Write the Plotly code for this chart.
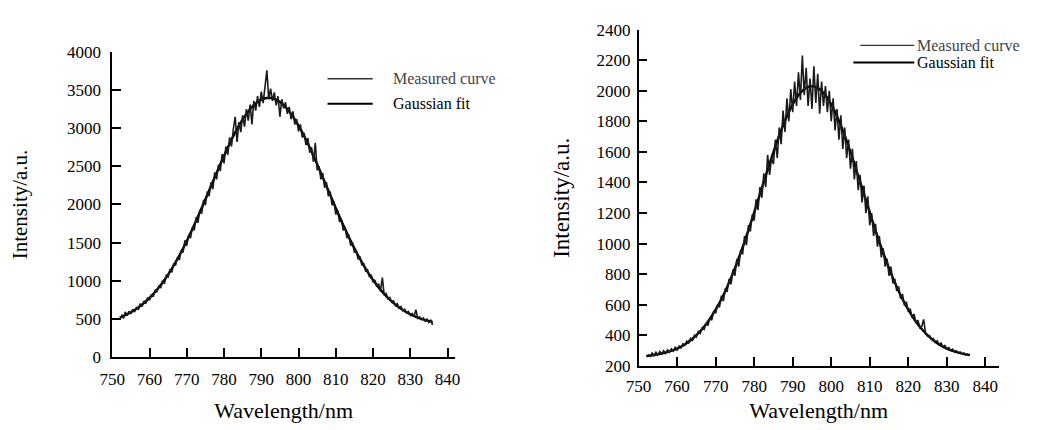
import numpy as np
import plotly.graph_objects as go

# ---------------- data ----------------
# Left panel: measured curve, 0.5 nm sampling starting at 752.5 nm
left_start = 752.5
left_measured = [
    560, 505, 590, 540, 600, 565, 625, 590, 655, 620, 700, 660, 735, 700, 780, 745,
    820, 790, 880, 850, 935, 905, 1000, 960, 1070, 1050, 1150, 1110, 1230, 1200, 1310, 1270,
    1400, 1370, 1530, 1460, 1600, 1560, 1700, 1660, 1830, 1760, 1930, 1880, 2060, 1990, 2170, 2110,
    2290, 2200, 2420, 2330, 2520, 2440, 2660, 2540, 2760, 2650, 2880, 2760, 2990, 3150, 2820, 3080,
    2950, 3170, 3020, 3250, 3100, 3310, 3050, 3360, 3230, 3420, 3280, 3480, 3330, 3510, 3760, 3380,
    3520, 3360, 3470, 3300, 3420, 3150, 3380, 3260, 3340, 3190, 3280, 3120, 3220, 3050, 3120, 2960,
    3050, 2880, 2940, 2780, 2870, 2680, 2750, 2560, 2810, 2450, 2500, 2330, 2410, 2220, 2290, 2110,
    2170, 1990, 2040, 1870, 1920, 1770, 1810, 1660, 1700, 1560, 1600, 1460, 1500, 1370, 1400, 1280,
    1320, 1200, 1230, 1120, 1150, 1050, 1080, 980, 1010, 920, 960, 860, 1040, 810, 830, 760,
    780, 720, 735, 675, 700, 640, 660, 605, 625, 575, 595, 545, 570, 530, 620, 505,
    525, 490, 510, 470, 495, 450, 480, 420,
]
# Left panel: Gaussian fit, 2 nm sampling from 752 nm
left_fit_wl = list(range(752, 837, 2))
left_fit = [
    516, 559, 615, 686, 774, 882, 1009, 1159, 1330, 1522, 1731, 1953, 2183, 2414, 2638, 2849,
    3034, 3188, 3304, 3376, 3400, 3376, 3304, 3188, 3034, 2849, 2638, 2414, 2183, 1953, 1731, 1522,
    1330, 1159, 1009, 882, 774, 686, 615, 559, 516, 483, 459,
]

# Right panel: measured curve, 0.5 nm sampling starting at 752.5 nm
right_start = 752.5
right_measured = [
    275, 262, 285, 268, 290, 272, 295, 278, 300, 282, 305, 290, 312, 298, 322, 305,
    330, 318, 345, 335, 362, 350, 380, 368, 400, 390, 425, 412, 450, 440, 480, 465,
    515, 500, 560, 545, 600, 585, 660, 625, 700, 690, 770, 735, 830, 790, 900, 850,
    960, 930, 1050, 990, 1120, 1080, 1190, 1150, 1290, 1220, 1370, 1300, 1460, 1370, 1580, 1450,
    1560, 1520, 1680, 1560, 1760, 1650, 1870, 1730, 1950, 1800, 2010, 1860, 2060, 1900, 2120, 1940,
    2230, 1970, 2150, 1900, 2080, 1880, 2160, 1920, 2110, 1850, 2060, 1900, 2030, 1860, 2000, 1800,
    1950, 1740, 1880, 1680, 1840, 1620, 1760, 1560, 1680, 1490, 1620, 1420, 1540, 1350, 1450, 1270,
    1380, 1200, 1310, 1120, 1200, 1050, 1130, 980, 1050, 910, 970, 850, 900, 790, 850, 740,
    770, 690, 720, 640, 670, 595, 620, 555, 575, 515, 540, 480, 500, 450, 460, 505,
    410, 395, 400, 375, 380, 355, 365, 340, 350, 325, 335, 312, 320, 302, 310, 292,
    300, 285, 292, 278, 285, 272, 280,
]
# Right panel: Gaussian fit, 2 nm sampling from 752 nm
right_fit_wl = list(range(752, 837, 2))
right_fit = [
    265, 272, 281, 295, 314, 341, 378, 427, 489, 568, 663, 776, 906, 1050, 1205, 1365,
    1523, 1672, 1804, 1911, 1986, 2025, 2025, 1986, 1911, 1804, 1672, 1523, 1365, 1205, 1050, 906,
    776, 663, 568, 489, 427, 378, 341, 314, 295, 281, 272,
]

x_ticks = list(range(750, 841, 10))
left_y_ticks = list(range(0, 4001, 500))
right_y_ticks = list(range(200, 2401, 200))
legend_names = ["Measured curve", "Gaussian fit"]

left_wl = left_start + 0.5 * np.arange(len(left_measured))
right_wl = right_start + 0.5 * np.arange(len(right_measured))

# ---------------- figure ----------------
FONT = "Liberation Serif, Times New Roman, serif"
fig = go.Figure()

fig.add_trace(go.Scatter(x=left_fit_wl, y=left_fit, mode="lines", line=dict(color="black", width=2.4, shape="spline"),
                         name=legend_names[1], showlegend=False, xaxis="x", yaxis="y"))
fig.add_trace(go.Scatter(x=left_wl, y=left_measured, mode="lines", line=dict(color="#1a1a1a", width=1.6),
                         name=legend_names[0], showlegend=False, xaxis="x", yaxis="y"))
fig.add_trace(go.Scatter(x=right_fit_wl, y=right_fit, mode="lines", line=dict(color="black", width=2.4, shape="spline"),
                         name=legend_names[1], showlegend=False, xaxis="x2", yaxis="y2"))
fig.add_trace(go.Scatter(x=right_wl, y=right_measured, mode="lines", line=dict(color="#1a1a1a", width=1.6),
                         name=legend_names[0], showlegend=False, xaxis="x2", yaxis="y2"))

axis_common = dict(
    showline=True, linecolor="black", linewidth=1.5, mirror=False,
    ticks="inside", ticklen=9, tickwidth=1.5, tickcolor="black",
    showgrid=False, zeroline=False,
    tickfont=dict(family=FONT, size=17, color="black"),
)

fig.update_layout(
    width=1050, height=430,
    margin=dict(l=0, r=0, t=0, b=0),
    paper_bgcolor="white", plot_bgcolor="white",
    font=dict(family=FONT, color="black"),
    showlegend=False,
    xaxis=dict(**axis_common, domain=[101 / 1050, 449.7 / 1050], range=[750, 842], anchor="y",
               tickvals=x_ticks, ticklabelstandoff=6,
               title=dict(text="Wavelength/nm", font=dict(family=FONT, size=22), standoff=15)),
    yaxis=dict(**axis_common, domain=[(430 - 364) / 430, (430 - 45) / 430], range=[0, 4000], anchor="x",
               tickvals=left_y_ticks, ticklabelstandoff=6,
               title=dict(text="Intensity/a.u.", font=dict(family=FONT, size=21), standoff=34)),
    xaxis2=dict(**axis_common, domain=[636.5 / 1050, 1003 / 1050], range=[750, 843.5], anchor="y2",
                tickvals=x_ticks, ticklabelstandoff=4,
                title=dict(text="Wavelength/nm", font=dict(family=FONT, size=22), standoff=7)),
    yaxis2=dict(**axis_common, domain=[(430 - 373.5) / 430, (430 - 21.5) / 430], range=[200, 2400], anchor="x2",
                tickvals=right_y_ticks, ticklabelstandoff=3,
                title=dict(text="Intensity/a.u.", font=dict(family=FONT, size=23), standoff=20)),
)

# legend keys (drawn as paper-space lines + text)
def px(x):
    return x / 1050

def py(y):
    return 1 - y / 430

legend_items = [
    # (x0, x1, y, text_x, colour, width, name)
    (320, 366, 73, 385, "#333333", 1.3, legend_names[0]),
    (320, 366, 99, 385, "black", 2.0, legend_names[1]),
    (862, 917, 38, 918, "#333333", 1.3, legend_names[0]),
    (855, 917, 56, 918, "black", 2.0, legend_names[1]),
]
for x0, x1, y, tx, col, w, name in legend_items:
    fig.add_shape(type="line", xref="paper", yref="paper", x0=px(x0), x1=px(x1), y0=py(y), y1=py(y),
                  line=dict(color=col, width=w))
    fig.add_annotation(xref="paper", yref="paper", x=px(tx), y=py(y), xanchor="left", yanchor="middle",
                       text=name, showarrow=False,
                       font=dict(family=FONT, size=16, color="#444444" if name == legend_names[0] else "black"))

fig.write_html("out.html")
